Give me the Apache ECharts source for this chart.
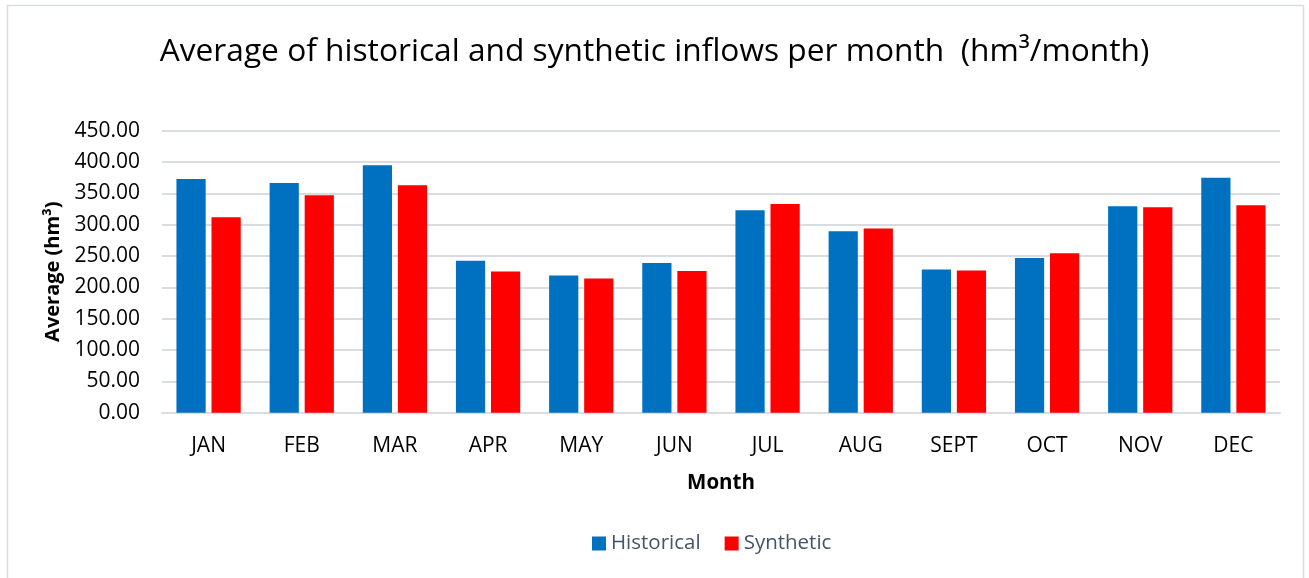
<!DOCTYPE html>
<html>
<head>
<meta charset="utf-8">
<script src="https://cdn.jsdelivr.net/npm/echarts@6/dist/echarts.min.js"></script>
<style>
html,body{margin:0;padding:0;background:#fff;}
#chart{width:1309px;height:578px;}
</style>
</head>
<body>
<div id="chart"></div>
<script>
const months = ['JAN','FEB','MAR','APR','MAY','JUN','JUL','AUG','SEPT','OCT','NOV','DEC'];
const historical = [373, 366.5, 395, 242.5, 219, 239, 323, 289.5, 228.5, 247, 329.5, 375];
const synthetic = [312, 347, 363, 225.5, 214, 226, 333, 294, 227, 254.5, 328, 331];
const yTicks = { min: 0, max: 450, interval: 50 };

const FONT = 'Open Sans';
const chart = echarts.init(document.getElementById('chart'), null, {renderer: 'canvas'});
chart.setOption({
  animation: false,
  backgroundColor: '#ffffff',
  textStyle: { fontFamily: FONT },
  title: {
    text: 'Average of historical and synthetic inflows per month  (hm³/month)',
    left: 'center',
    top: 31,
    textStyle: { fontFamily: FONT, fontSize: 31.7, fontWeight: 'normal', color: '#000000' }
  },
  graphic: [{
    type: 'rect',
    shape: { x: 7.5, y: 5.5, width: 1296, height: 580 },
    style: { fill: null, stroke: '#d9dde3', lineWidth: 1.5 },
    silent: true
  }],
  legend: {
    data: ['Historical', 'Synthetic'],
    left: 587,
    top: 528,
    itemWidth: 14,
    itemHeight: 14,
    itemGap: 24,
    icon: 'rect',
    textStyle: { fontFamily: FONT, fontSize: 20.5, color: '#44546a' }
  },
  grid: { left: 162, right: 29, top: 130.7, bottom: 165.3, containLabel: false },
  xAxis: {
    type: 'category',
    data: months,
    name: 'Month',
    nameLocation: 'middle',
    nameGap: 60,
    nameTextStyle: { fontFamily: FONT, fontSize: 20.5, fontWeight: 'bold', color: '#000' },
    axisLine: { lineStyle: { color: '#d9dde3', width: 2 } },
    axisTick: { show: false },
    axisLabel: { fontFamily: FONT, fontSize: 21, color: '#000', margin: 23 }
  },
  yAxis: {
    type: 'value',
    min: yTicks.min,
    max: yTicks.max,
    interval: yTicks.interval,
    name: 'Average (hm³)',
    nameLocation: 'middle',
    nameGap: 99,
    nameTextStyle: { fontFamily: FONT, fontSize: 20, fontWeight: 'bold', color: '#000' },
    axisLine: { show: false },
    axisTick: { show: false },
    axisLabel: { fontFamily: FONT, fontSize: 21, color: '#000', margin: 22, formatter: v => v.toFixed(2) },
    splitLine: { lineStyle: { color: '#d9dde3', width: 2 } }
  },
  series: [
    {
      name: 'Historical', type: 'bar', data: historical,
      itemStyle: { color: '#0070c0' },
      barGap: '20%', barCategoryGap: '31%'
    },
    {
      name: 'Synthetic', type: 'bar', data: synthetic,
      itemStyle: { color: '#ff0000' },
      barGap: '20%', barCategoryGap: '31%'
    }
  ]
});
</script>
</body>
</html>
